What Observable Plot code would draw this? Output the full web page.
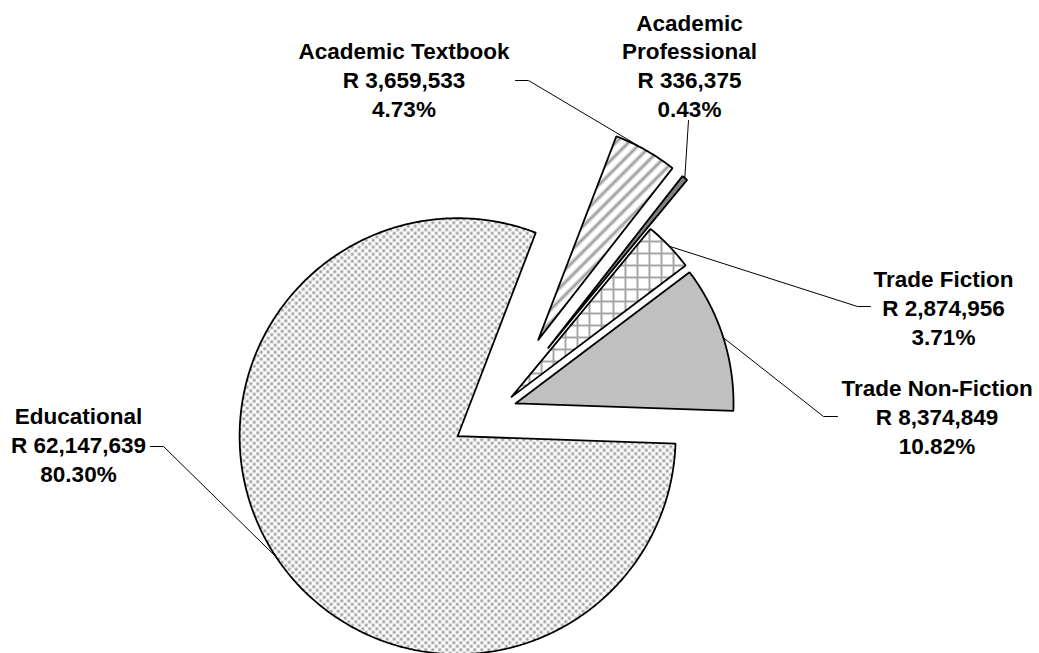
<!DOCTYPE html>
<html>
<head>
<meta charset="utf-8">
<script src="https://cdn.jsdelivr.net/npm/d3@7"></script>
<script src="https://cdn.jsdelivr.net/npm/@observablehq/plot@0.6"></script>
<style>
  html, body { margin: 0; padding: 0; background: #fff; overflow: hidden; }
</style>
</head>
<body>
<div id="chart"></div>
<script>
// ---------- data ----------
const categories = ["Educational", "Academic Textbook", "Academic Professional", "Trade Fiction", "Trade Non-Fiction"];
const amounts = [62147639, 3659533, 336375, 2874956, 8374849];
const labelNames = ["Educational", "Academic Textbook", "Academic\nProfessional", "Trade Fiction", "Trade Non-Fiction"];

// ---------- layout / style ----------
const W = 1039, H = 653;
const CX = 498.8, CY = 408.1, R = 218;          // pie centre & radius (px)
const START_DEG = 91.92;                          // first slice start angle (clockwise from 12 o'clock)
const explodePx = [50, 79, 78, 17, 17];           // per-slice explosion (px)
const fills = ["url(#pEdu)", "url(#pText)", "#808080", "url(#pGrid)", "#c0c0c0"];
const labelPx = [[78, 443], [403.5, 78.5], [689, 64], [943, 306], [936.5, 415]];
const leaderStartPx = [
  [[150, 446], [163, 446]],
  [[515, 80], [528, 80]],
  [[688, 120]],
  [[870, 306], [857, 306]],
  [[837, 416], [823, 416]]
];

const total = d3.sum(amounts);
const a0 = START_DEG * Math.PI / 180;
const arcs = d3.pie().sort(null).value(d => d).startAngle(a0).endAngle(a0 + 2 * Math.PI)(amounts);

const toU = ([px, py]) => ({x: (px - CX) / R, y: (CY - py) / R});

const slicePts = [];
const leaderPts = [];
arcs.forEach((a, i) => {
  const mid = (a.startAngle + a.endAngle) / 2;
  const e = explodePx[i] / R;
  const ox = e * Math.sin(mid), oy = e * Math.cos(mid);
  const pts = [{x: ox, y: oy}];
  const n = Math.max(2, Math.ceil((a.endAngle - a.startAngle) / (Math.PI / 360)));
  for (let k = 0; k <= n; k++) {
    const t = a.startAngle + (a.endAngle - a.startAngle) * k / n;
    pts.push({x: ox + Math.sin(t), y: oy + Math.cos(t)});
  }
  pts.push({x: ox, y: oy});
  slicePts.push(pts);
  const tip = {x: ox + Math.sin(mid), y: oy + Math.cos(mid)};
  leaderStartPx[i].forEach(p => leaderPts.push({...toU(p), i}));
  leaderPts.push({...tip, i});
});

const fmtAmt = d3.format(",");
const fmtPct = d3.format(".2%");
const labels = categories.map((c, i) => ({
  ...toU(labelPx[i]),
  text: `${labelNames[i]}\nR ${fmtAmt(amounts[i])}\n${fmtPct(amounts[i] / total)}`
}));

function defsMark() {
  const ns = "http://www.w3.org/2000/svg";
  const g = document.createElementNS(ns, "g");
  g.innerHTML = `
  <defs>
    <pattern id="pEdu" patternUnits="userSpaceOnUse" width="7" height="7">
      <rect width="7" height="7" fill="#fff"/>
      <rect x="0.3" y="0.3" width="2.9" height="2.9" fill="#a0a0a0"/>
      <rect x="3.8" y="3.8" width="2.9" height="2.9" fill="#a0a0a0"/>
    </pattern>
    <linearGradient id="gStripe" x1="0" y1="0" x2="0" y2="1">
      <stop offset="0" stop-color="#fff"/>
      <stop offset="0.2" stop-color="#fff"/>
      <stop offset="0.5" stop-color="#969696"/>
      <stop offset="0.8" stop-color="#fff"/>
      <stop offset="1" stop-color="#fff"/>
    </linearGradient>
    <pattern id="pText" patternUnits="userSpaceOnUse" width="9" height="9" patternTransform="rotate(-45)">
      <rect width="9" height="9" fill="url(#gStripe)"/>
    </pattern>
    <pattern id="pGrid" patternUnits="userSpaceOnUse" width="12" height="12">
      <rect width="12" height="12" fill="#fff"/>
      <path d="M0 1H12M1 0V12" stroke="#a6a6a6" stroke-width="2"/>
    </pattern>
  </defs>`;
  return g;
}

const chart = Plot.plot({
  width: W,
  height: H,
  margin: 0,
  x: {domain: [-CX / R, (W - CX) / R], range: [0, W], axis: null},
  y: {domain: [-(H - CY) / R, CY / R], range: [H, 0], axis: null},
  style: {background: "#fff", overflow: "visible"},
  marks: [
    defsMark,
    Plot.line(leaderPts, {x: "x", y: "y", z: "i", stroke: "#000", strokeWidth: 1}),
    ...slicePts.map((pts, i) => Plot.line(pts, {
      x: "x", y: "y", fill: fills[i], stroke: "#000", strokeWidth: 1.8, strokeLinejoin: "miter"
    })),
    Plot.text(labels, {
      x: "x", y: "y", text: "text",
      fontSize: 22.5, fontWeight: "bold",
      fontFamily: "'Liberation Sans', Arial, sans-serif",
      lineHeight: 1.28, lineAnchor: "middle", textAnchor: "middle", fill: "#000"
    })
  ]
});
document.getElementById("chart").appendChild(chart);
</script>
</body>
</html>
